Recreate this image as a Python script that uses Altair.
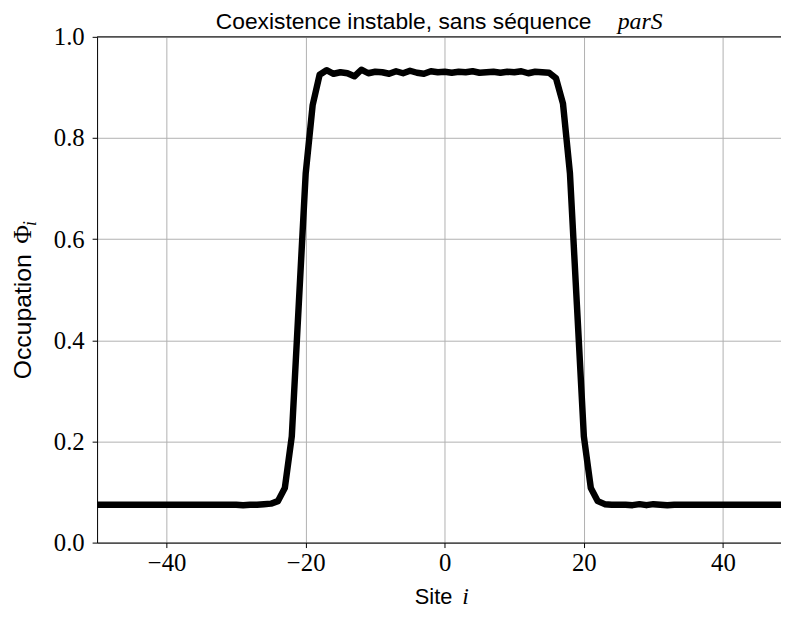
import altair as alt
import pandas as pd

sites = list(range(-50, 50))
occupation = (
    [0.075] * 20 +  # -50..-31
    [0.075, 0.074, 0.075, 0.075, 0.076, 0.077, 0.082, 0.108, 0.21, 0.47,   # -30..-21
     0.73, 0.865, 0.925, 0.934, 0.927, 0.930, 0.928, 0.922, 0.935, 0.928,  # -20..-11
     0.931, 0.930, 0.927, 0.932, 0.928, 0.933, 0.929, 0.927, 0.932, 0.930,  # -10..-1
     0.931, 0.929, 0.931, 0.930, 0.932, 0.929, 0.930, 0.931, 0.929, 0.931,  # 0..9
     0.930, 0.932, 0.928, 0.931, 0.930, 0.929, 0.918, 0.868, 0.73, 0.47,    # 10..19
     0.21, 0.108, 0.082, 0.076, 0.075, 0.075, 0.075, 0.074, 0.076, 0.074,   # 20..29
     0.076, 0.075, 0.074, 0.075, 0.075, 0.075, 0.075, 0.075, 0.075, 0.075,  # 30..39
     0.075, 0.075, 0.075, 0.075, 0.075, 0.075, 0.075, 0.075, 0.075, 0.075]  # 40..49
)

x_ticks = [-40, -20, 0, 20, 40]
y_ticks = [0.0, 0.2, 0.4, 0.6, 0.8, 1.0]

title_main = "Coexistence instable, sans séquence"
title_math = "parS"
xlabel_main = "Site"
xlabel_math = "i"
ylabel_main = "Occupation"
ylabel_phi = "Φ"
ylabel_sub = "i"

df = pd.DataFrame({"site": sites, "phi": occupation})

W, H = 691, 511
SANS = "Liberation Sans"
SERIF = "Liberation Serif"

x_scale = alt.Scale(domain=[-50, 48.35], nice=False, zero=False)
y_scale = alt.Scale(domain=[0, 1], nice=False)

base = alt.Chart(df)

line = base.mark_line(color="black", strokeWidth=6.5, clip=True, strokeJoin="round").encode(
    x=alt.X("site:Q", scale=x_scale,
            axis=alt.Axis(values=x_ticks, format="d", title=None, grid=True,
                          labelFont=SERIF, labelFontSize=25, labelColor="black",
                          tickSize=5, tickColor="black", domainColor="black",
                          gridColor="#b0b0b0", labelPadding=3, labelFlush=False)),
    y=alt.Y("phi:Q", scale=y_scale,
            axis=alt.Axis(values=y_ticks, format=".1f", title=None, grid=True,
                          labelFont=SERIF, labelFontSize=25, labelColor="black",
                          tickSize=5, tickColor="black", domainColor="black",
                          gridColor="#b0b0b0", labelPadding=8, labelFlush=False)),
)

top_spine = alt.Chart(pd.DataFrame({"v": [1.0]})).mark_rule(color="black", strokeWidth=1).encode(
    y=alt.Y("v:Q", scale=y_scale)
)

def txt(text, x, y, font, size, style="normal", angle=0, align="left", baseline="alphabetic"):
    kw = dict(text=text, font=font, fontSize=size, fontStyle=style, align=align,
              baseline=baseline, color="black")
    if angle:
        kw["angle"] = angle
    return alt.Chart(pd.DataFrame({"t": [text]})).mark_text(**kw).encode(
        x=alt.value(x), y=alt.value(y))

texts = [
    txt(title_main, 120, -8, SANS, 23),
    txt(title_math, 526, -8, SERIF, 24, style="italic"),
    txt(xlabel_main, 321, 573, SANS, 22),
    txt(xlabel_math, 369, 573, SERIF, 24, style="italic"),
    txt(ylabel_main, -67, 346, SANS, 25, angle=270),
    txt(ylabel_phi, -67, 209, SERIF, 26, angle=270),
    txt(ylabel_sub, -62, 191, SERIF, 18, style="italic", angle=270),
]

chart = alt.layer(line, top_spine, *texts).properties(
    width=W, height=H,
    autosize=alt.AutoSizeParams(type="none"),
    padding={"left": 90, "top": 26, "right": 0, "bottom": 70},
).configure_view(stroke=None).configure(background="white")

chart.save("out.html", embed_options={"renderer": "svg", "actions": False})
